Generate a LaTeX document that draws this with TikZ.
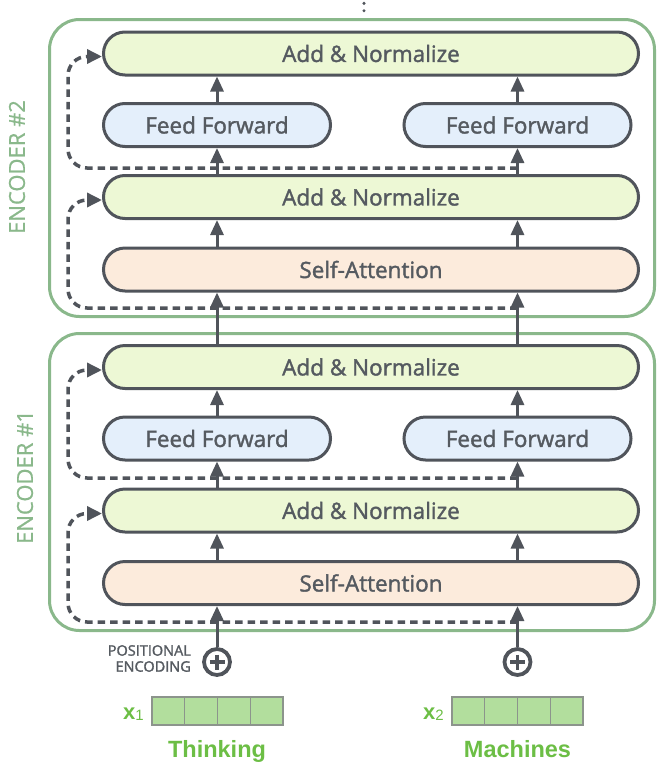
\documentclass[tikz,border=0pt]{standalone}
\usepackage{fontspec}
\setmainfont{Open Sans}
\newfontfamily\boxfont{Open Sans}[FakeBold=1.6]
\newfontfamily\encfont{Open Sans}[FakeBold=0.8]
\newfontfamily\labelfont{Liberation Sans}
\usetikzlibrary{arrows.meta}
\definecolor{boxline}{HTML}{50545B}
\definecolor{txt}{HTML}{555A60}
\definecolor{encgreen}{HTML}{8AB88B}
\definecolor{anfill}{HTML}{EDF8D5}
\definecolor{fffill}{HTML}{E4EFFB}
\definecolor{safill}{HTML}{FCEBDC}
\definecolor{vecfill}{HTML}{B2DE9D}
\definecolor{vecline}{HTML}{8C948C}
\definecolor{wordgreen}{HTML}{6CBE45}
\tikzset{
  block/.style={draw=boxline, line width=3pt, rounded corners=21.5pt, minimum height=43pt,
    inner sep=0pt, text=txt, font=\boxfont\fontsize{22.5}{24}\selectfont},
  anbox/.style={block, fill=anfill, minimum width=535pt},
  ffbox/.style={block, fill=fffill, minimum width=227pt},
  sabox/.style={block, fill=safill, minimum width=535pt},
  encbox/.style={draw=encgreen, line width=3pt, rounded corners=30pt, minimum width=605pt,
    minimum height=297pt, inner sep=0pt},
  enclabel/.style={rotate=90, text=encgreen, inner sep=0pt, font=\encfont\fontsize{22}{24}\selectfont},
  flow/.style={draw=boxline, line width=3pt, -{Triangle[width=13pt,length=15pt]}},
  res/.style={draw=boxline, line width=3.5pt, -{Triangle[width=14pt,length=15pt]},
    dash pattern=on 7.5pt off 5pt, rounded corners=19pt},
  plusnode/.style={circle, draw=boxline, line width=3.8pt, minimum size=26pt, inner sep=0pt},
  cell/.style={draw=vecline, fill=vecfill, line width=1.2pt, minimum width=32.75pt,
    minimum height=28pt, inner sep=0pt},
  word/.style={text=wordgreen, anchor=base, inner sep=0pt,
    font=\labelfont\bfseries\fontsize{23.5}{24}\selectfont}
}
\begin{document}
\begin{tikzpicture}[x=1pt,y=-1pt]
\useasboundingbox (0,0) rectangle (672,772);

% top continuation dots
\fill[boxline] (364,3.3) circle (1.7) (364,10.7) circle (1.7);

% encoder containers
\node[encbox] (enc2) at (352,168) {};
\node[encbox] (enc1) at (352,482) {};
\node[enclabel] (lab2) at (17,167) {ENCODER \#2};
\node[enclabel] (lab1) at (25,477) {ENCODER \#1};

% encoder 2 blocks
\node[anbox] (a22) at (371,53.5) {Add \& Normalize};
\node[ffbox] (f21) at (217,125) {Feed Forward};
\node[ffbox] (f22) at (517.5,125) {Feed Forward};
\node[anbox] (a21) at (371,197) {Add \& Normalize};
\node[sabox] (s2) at (371,269.5) {Self-Attention};

% encoder 1 blocks
\node[anbox] (a12) at (371,367) {Add \& Normalize};
\node[ffbox] (f11) at (217,438.5) {Feed Forward};
\node[ffbox] (f12) at (517.5,438.5) {Feed Forward};
\node[anbox] (a11) at (371,510.5) {Add \& Normalize};
\node[sabox] (s1) at (371,583) {Self-Attention};

% residual dashed connections
\coordinate (r2a) at (517.5,308);
\coordinate (r2b) at (517.5,168);
\coordinate (r1a) at (517.5,622);
\coordinate (r1b) at (517.5,478);
\draw[res] (r2a) -- (68,308) |- ([yshift=-3pt]a21.west);
\draw[res] (r2b) -- (68,168) |- ([yshift=-3pt]a22.west);
\draw[res] (r1a) -- (68,622) |- ([yshift=-3pt]a11.west);
\draw[res] (r1b) -- (68,478) |- ([yshift=-3pt]a12.west);

% solid flow arrows, encoder 2
\draw[flow] (s2.north -| f21.south) -- (a21.south -| f21.south);
\draw[flow] (s2.north -| f22.south) -- (a21.south -| f22.south);
\draw[flow] (a21.north -| f21.south) -- (f21.south);
\draw[flow] (a21.north -| f22.south) -- (f22.south);
\draw[flow] (f21.north) -- (a22.south -| f21.north);
\draw[flow] (f22.north) -- (a22.south -| f22.north);

% between encoders
\draw[flow] (a12.north -| f11.south) -- (s2.south -| f11.south);
\draw[flow] (a12.north -| f12.south) -- (s2.south -| f12.south);

% solid flow arrows, encoder 1
\draw[flow] (s1.north -| f11.south) -- (a11.south -| f11.south);
\draw[flow] (s1.north -| f12.south) -- (a11.south -| f12.south);
\draw[flow] (a11.north -| f11.south) -- (f11.south);
\draw[flow] (a11.north -| f12.south) -- (f12.south);
\draw[flow] (f11.north) -- (a12.south -| f11.north);
\draw[flow] (f12.north) -- (a12.south -| f12.north);

% positional encoding
\node[plusnode] (p1) at (217,662) {};
\node[plusnode] (p2) at (517.5,662) {};
\draw[boxline, line width=3.8pt] (p1.center) +(-7.5,0) -- +(7.5,0) (p1.center) +(0,-7.5) -- +(0,7.5);
\draw[boxline, line width=3.8pt] (p2.center) +(-7.5,0) -- +(7.5,0) (p2.center) +(0,-7.5) -- +(0,7.5);
\draw[flow] (p1) -- (s1.south -| p1.north);
\draw[flow] (p2) -- (s1.south -| p2.north);
\node[anchor=east, align=right, inner sep=0pt, text=txt, font=\boxfont\fontsize{14.5}{16}\selectfont]
  (pe) at (191,658.5) {POSITIONAL\\ENCODING};

% input vectors
\foreach \i in {0,...,3} {
  \node[cell] (v1\i) at ({168.4+32.75*\i},711) {};
  \node[cell] (v2\i) at ({468.4+32.75*\i},711) {};
}
\node[anchor=base east, inner sep=0pt, text=wordgreen] (x1) at (144,719)
  {\labelfont{\bfseries\fontsize{22}{22}\selectfont x}{\fontsize{15}{15}\selectfont\raisebox{-1.5pt}{1}}};
\node[anchor=base east, inner sep=0pt, text=wordgreen] (x2) at (444,719)
  {\labelfont{\bfseries\fontsize{22}{22}\selectfont x}{\fontsize{15}{15}\selectfont\raisebox{-1.5pt}{2}}};
\node[word] (w1) at (217,757) {Thinking};
\node[word] (w2) at (517.5,757) {Machines};
\end{tikzpicture}
\end{document}
